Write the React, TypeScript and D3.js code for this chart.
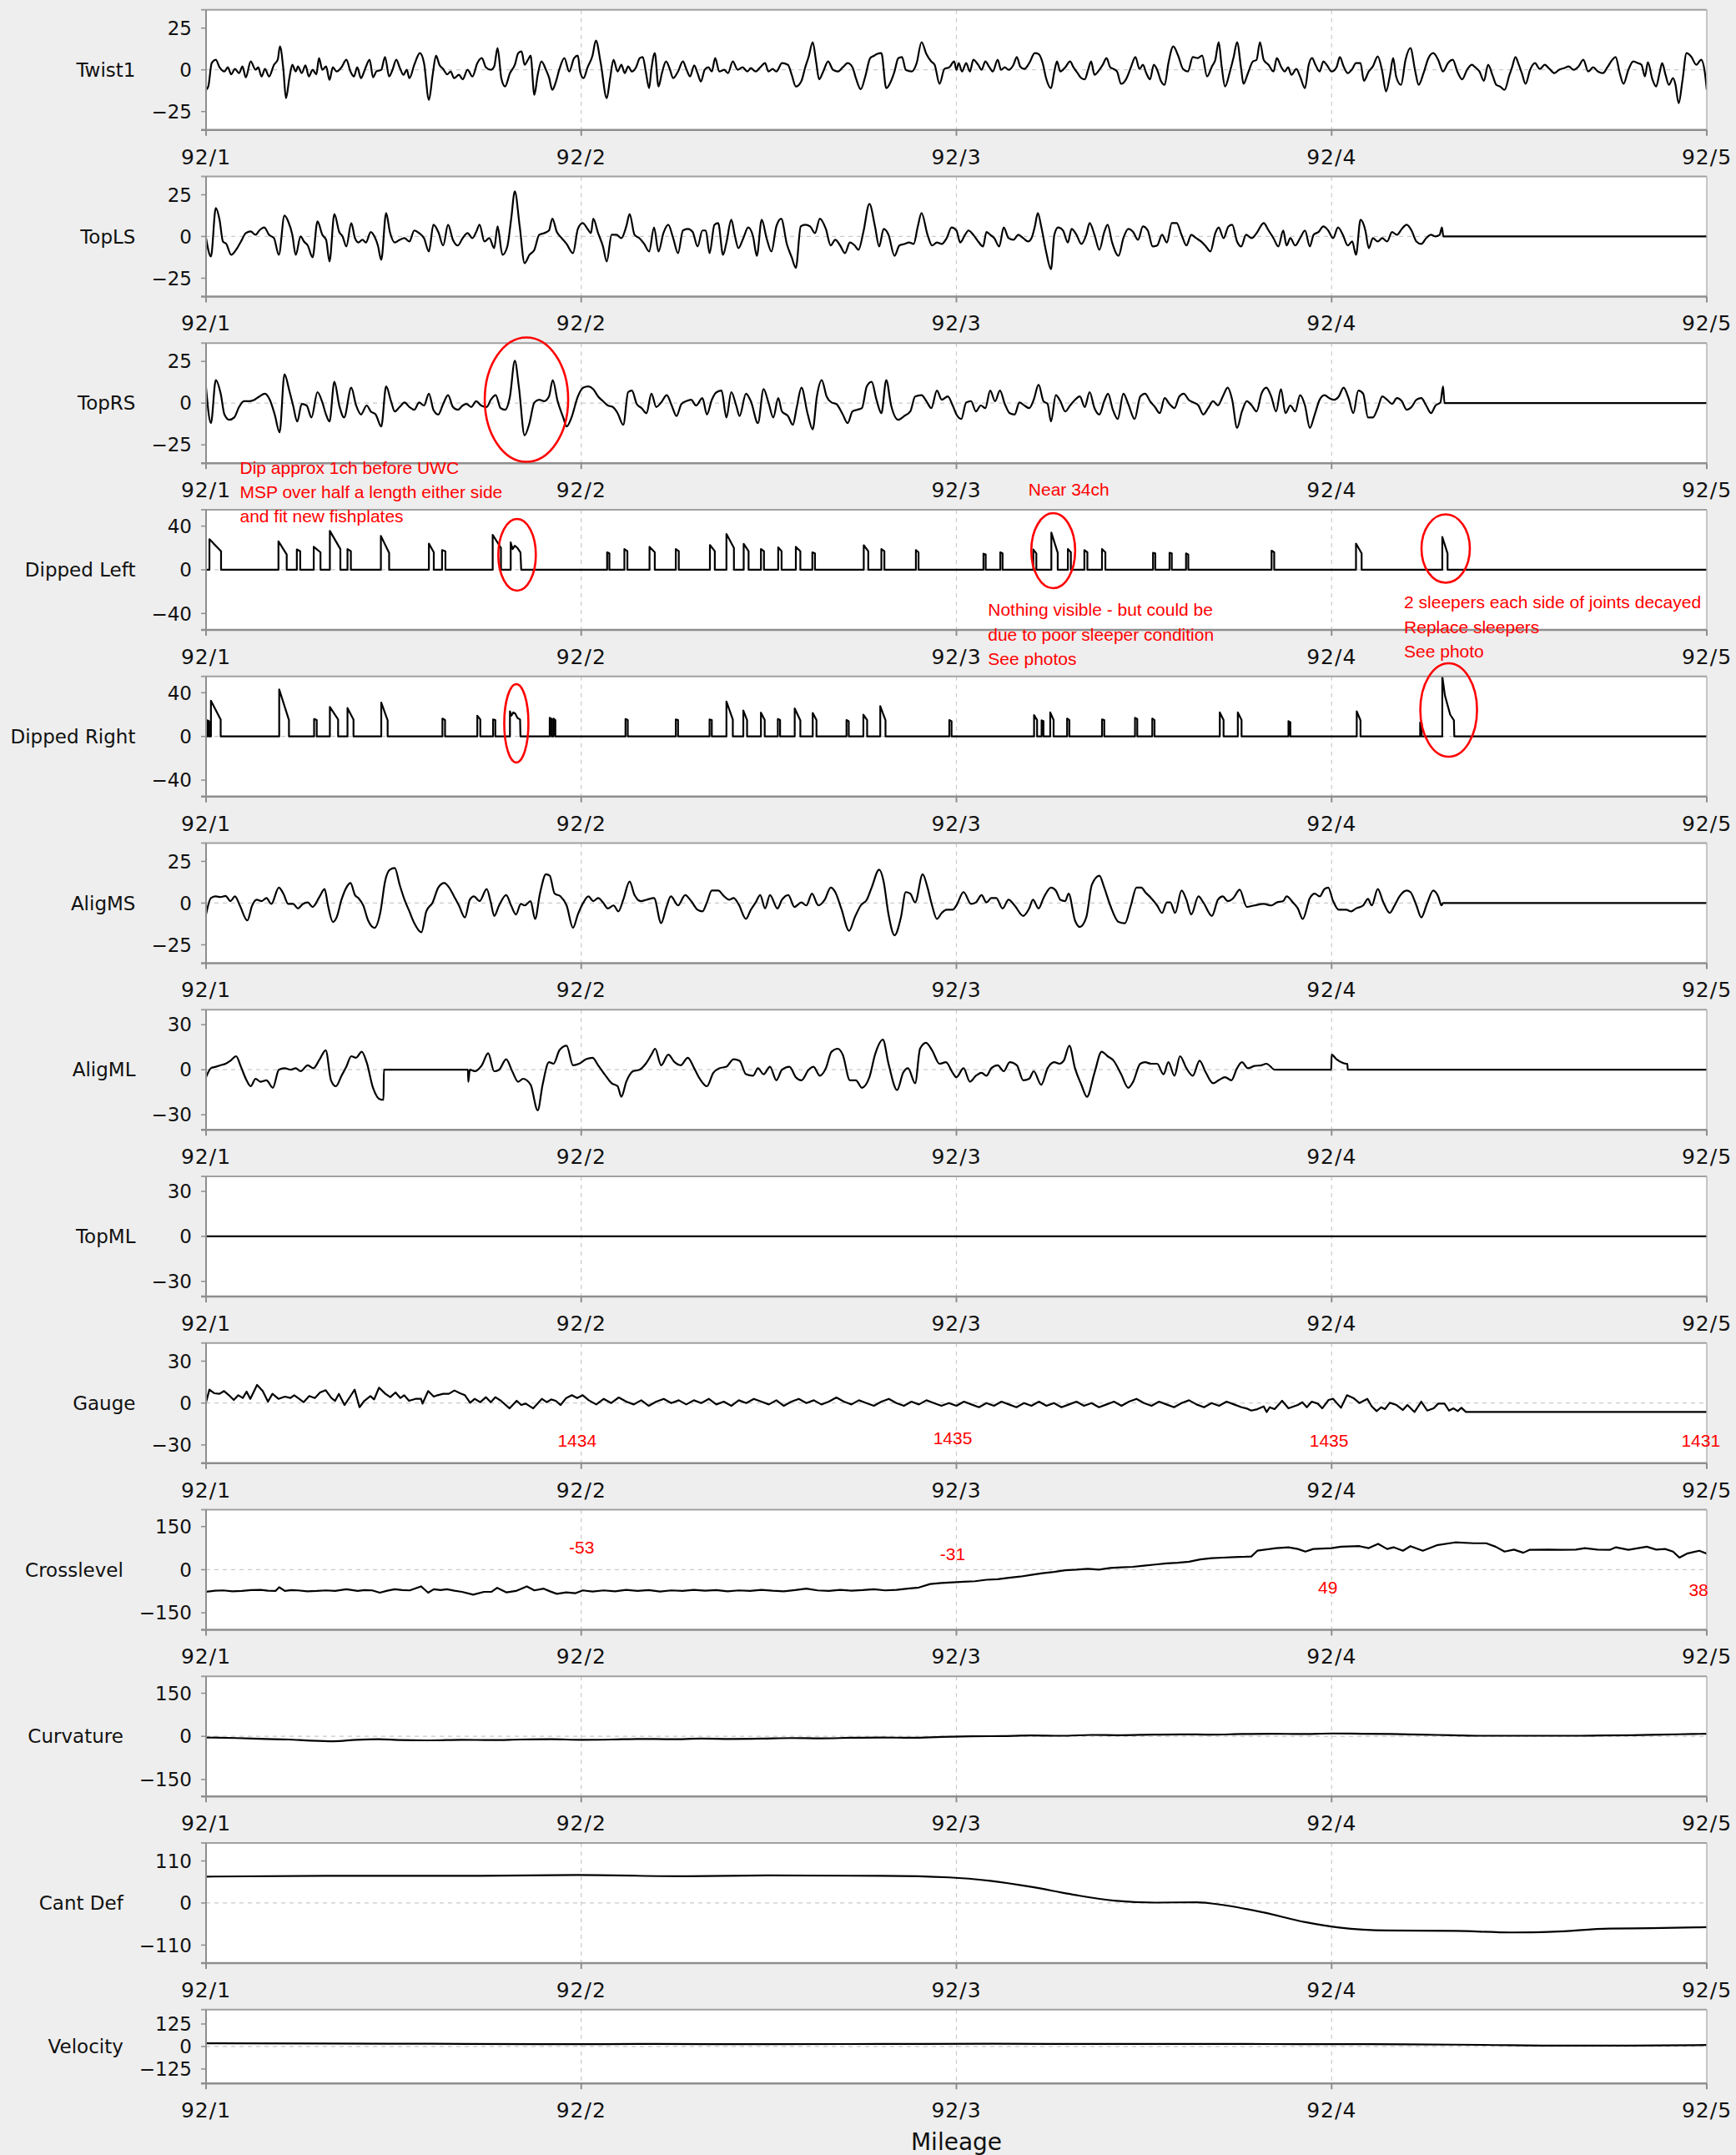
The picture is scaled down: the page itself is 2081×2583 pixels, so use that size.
import React from "react";
import * as d3 from "d3";

type P = [number, number];
type Spike = [number, number, number, number]; // mileage, peak, tail, width

// ---------- axis values ----------
const mileageTicks = [1, 2, 3, 4, 5];
const mileagePrefix = "92/";
const ticks25 = [25, 0, -25];
const ticks40 = [40, 0, -40];
const ticks30 = [30, 0, -30];
const ticks150 = [150, 0, -150];
const ticks110 = [110, 0, -110];
const ticks125 = [125, 0, -125];

// ---------- series (mileage in furlongs after 92 miles, value) ----------
const twist1: P[] = [
[1.000,-12],[1.006,-10],[1.015,4],[1.026,6],[1.036,1.5],[1.049,-1],[1.058,1.5],[1.067,-2.7],[1.077,0.5],[1.088,-2],[1.097,2],[1.106,-4.5],[1.119,5],[1.132,0],[1.139,1.5],[1.148,-4],[1.157,0.5],[1.168,-4],[1.181,3],[1.191,6],[1.197,14],[1.206,0.5],[1.213,-17],[1.222,-5],[1.230,3],[1.239,-1],[1.245,2],[1.255,-2],[1.265,2.7],[1.274,-4],[1.284,0],[1.294,-2.7],[1.301,7],[1.310,0],[1.320,2],[1.329,-6],[1.338,1.5],[1.348,-1],[1.361,1.5],[1.374,6],[1.385,-1],[1.394,-4],[1.403,1.5],[1.413,-5],[1.423,0],[1.436,6],[1.445,-4.5],[1.454,-1],[1.467,0],[1.477,7.7],[1.488,-4],[1.497,0],[1.507,6],[1.516,1.5],[1.526,-3],[1.535,0],[1.542,-5],[1.555,3],[1.570,10],[1.581,4],[1.594,-18],[1.604,-3],[1.613,8.5],[1.622,3],[1.632,0.5],[1.643,-2.7],[1.652,-1],[1.661,-5],[1.674,-3],[1.684,-5.7],[1.697,0],[1.710,-4],[1.723,4],[1.735,7],[1.746,1.5],[1.759,0],[1.768,2],[1.777,13],[1.787,-5],[1.797,-10],[1.810,-2],[1.823,3],[1.832,10],[1.841,11],[1.849,3],[1.858,6],[1.865,8.5],[1.875,-15],[1.884,-3],[1.894,5],[1.906,0],[1.914,-4.5],[1.923,-12],[1.932,-7.5],[1.942,0.5],[1.955,7],[1.968,-1],[1.981,7],[1.991,8.5],[1.997,-1],[2.006,-5],[2.017,1.5],[2.030,8.5],[2.039,17.5],[2.052,4],[2.068,-17],[2.077,-5],[2.086,6],[2.097,-1],[2.107,3],[2.116,-2],[2.125,2],[2.135,-1],[2.146,1.5],[2.156,7],[2.164,7.7],[2.172,-1],[2.181,-11],[2.187,0.5],[2.196,10],[2.206,-10],[2.215,-2],[2.226,5],[2.236,0.5],[2.245,-5],[2.258,-1],[2.271,5],[2.280,0.5],[2.290,-4],[2.301,2.7],[2.310,-2],[2.319,-7],[2.329,0],[2.339,1.5],[2.348,-1],[2.357,7],[2.368,-1],[2.381,0],[2.391,-2],[2.404,5],[2.417,0],[2.430,1.5],[2.443,-1],[2.452,1],[2.465,-1],[2.477,1.5],[2.490,4],[2.499,-1],[2.510,0.5],[2.520,-1],[2.535,4],[2.551,3],[2.561,-3],[2.572,-10],[2.587,-6.6],[2.597,1.5],[2.606,7.7],[2.617,16.6],[2.626,5],[2.634,-5.7],[2.645,-1],[2.658,5],[2.671,0],[2.684,-1],[2.697,1.5],[2.710,4],[2.723,1.5],[2.732,-5],[2.745,-11.6],[2.757,-4],[2.770,7],[2.781,8.5],[2.788,9.5],[2.800,10],[2.813,-11],[2.826,-6.6],[2.835,-1],[2.845,7],[2.855,7.7],[2.865,0],[2.881,-1],[2.894,4],[2.907,16.6],[2.920,9.5],[2.933,5],[2.942,3],[2.955,-8.4],[2.968,0.5],[2.981,1.5],[2.994,5],
[3.000,0],[3.006,4],[3.015,-1],[3.026,4],[3.036,-1],[3.045,6],[3.058,3],[3.067,0],[3.077,5],[3.088,1.5],[3.097,-1],[3.110,6],[3.119,0],[3.129,1.5],[3.139,0],[3.152,3],[3.161,7.7],[3.170,2],[3.181,0.5],[3.194,4],[3.209,10],[3.219,9.5],[3.230,4],[3.239,-5],[3.252,-11],[3.261,-1],[3.268,5],[3.277,-1],[3.290,1.5],[3.303,5],[3.312,1.5],[3.323,-2],[3.333,-5],[3.342,-5.7],[3.351,0],[3.359,5],[3.368,-3],[3.381,0],[3.390,3],[3.400,7],[3.410,1.5],[3.419,0.5],[3.428,-1],[3.439,-8.4],[3.452,-5.7],[3.465,1.5],[3.477,7.7],[3.488,0.5],[3.497,3],[3.506,-2],[3.516,-5.7],[3.526,3],[3.535,0],[3.545,-6.6],[3.555,-9],[3.565,4],[3.578,14],[3.591,8.5],[3.604,0.5],[3.617,-1],[3.630,7.7],[3.643,7],[3.655,8.5],[3.668,-4],[3.681,2],[3.690,6],[3.699,16.6],[3.707,2],[3.716,-10],[3.729,-1],[3.739,7.7],[3.748,16.6],[3.759,0.5],[3.765,-8.4],[3.777,-2],[3.790,5],[3.800,6],[3.809,16.6],[3.819,6],[3.832,3],[3.845,-1],[3.854,7],[3.865,2],[3.875,-1],[3.884,1.5],[3.893,-3],[3.906,0.5],[3.916,-4],[3.929,-11],[3.939,3],[3.948,7],[3.957,3],[3.968,-1],[3.978,5],[3.987,3],[4.000,-1],[4.013,1.5],[4.022,7.7],[4.032,2],[4.043,-2],[4.055,0.5],[4.065,4],[4.077,4],[4.086,-6.6],[4.099,-1],[4.110,2],[4.123,8],[4.135,-1],[4.145,-13],[4.155,-4],[4.164,7],[4.172,-4],[4.185,-9],[4.197,6],[4.210,13],[4.223,-1],[4.232,-9],[4.245,-2],[4.258,7],[4.271,10],[4.284,6],[4.297,-1],[4.310,4],[4.323,6],[4.335,-1],[4.348,-5.7],[4.361,0],[4.374,3],[4.383,1.5],[4.394,-1],[4.406,-6.6],[4.417,3],[4.430,-4],[4.439,-9],[4.449,-10],[4.461,-12],[4.474,-3],[4.481,1.5],[4.490,7.7],[4.499,3],[4.507,-2],[4.517,-8.4],[4.529,0],[4.542,4],[4.555,0.5],[4.568,3],[4.581,0.5],[4.594,-2],[4.606,0],[4.619,1],[4.632,2],[4.645,0],[4.658,2],[4.671,6],[4.684,-1],[4.697,1.5],[4.710,-1],[4.723,-2],[4.735,1.5],[4.748,6],[4.757,7.7],[4.768,-2],[4.778,-8.4],[4.791,0],[4.804,5],[4.817,4],[4.826,3],[4.835,-4],[4.843,4.5],[4.855,-5.7],[4.865,-10],[4.874,-2],[4.881,4],[4.890,-3],[4.899,-9],[4.910,-5],[4.916,-8.4],[4.925,-20],[4.935,-6.6],[4.946,10],[4.959,7.7],[4.972,3],[4.985,6],[4.995,-2],[5.000,-12]
];

const topLS: P[] = [
[1.000,-1],[1.013,-12],[1.026,17],[1.036,10],[1.045,-3],[1.054,-4.5],[1.067,-11],[1.080,-8],[1.093,-3],[1.106,2],[1.119,3],[1.132,1],[1.142,3.6],[1.155,5.4],[1.168,1],[1.181,-1],[1.194,-11],[1.209,12.5],[1.219,9],[1.230,1],[1.239,-11],[1.252,0],[1.261,-3],[1.271,-5.4],[1.284,-12.5],[1.297,9],[1.310,1],[1.320,-2],[1.329,-15],[1.342,13.4],[1.355,2.7],[1.364,0],[1.374,-6],[1.387,8],[1.397,-1],[1.406,-3.6],[1.417,-2],[1.426,-3.6],[1.439,2.7],[1.449,0],[1.458,-5.4],[1.467,-14],[1.480,14],[1.490,2.7],[1.503,-3.6],[1.516,-2],[1.529,-1],[1.542,-3],[1.555,3.6],[1.568,2],[1.581,-1],[1.594,-9],[1.606,7],[1.619,2.7],[1.632,-5.4],[1.645,7],[1.658,-2],[1.671,-5.4],[1.684,-1],[1.697,2],[1.710,-1],[1.720,2.7],[1.729,7],[1.742,-3],[1.755,-1],[1.768,-7],[1.777,6],[1.790,-11],[1.803,-6],[1.813,10],[1.823,27],[1.836,6],[1.849,-16],[1.862,-11],[1.875,-8],[1.888,1],[1.901,2],[1.914,3.6],[1.923,10.7],[1.935,2.7],[1.948,-1],[1.961,-4.5],[1.978,-10],[1.991,4.5],[2.004,8],[2.017,4.5],[2.026,2],[2.032,10.7],[2.045,2],[2.058,-6],[2.068,-15],[2.081,1],[2.094,1],[2.107,-1],[2.120,6],[2.129,13.4],[2.142,1],[2.155,-1],[2.168,-4.5],[2.181,-9],[2.194,5.4],[2.206,-9],[2.219,2],[2.232,7],[2.245,-1],[2.258,-10],[2.271,3.6],[2.284,4.5],[2.297,2.7],[2.310,-6],[2.323,3.6],[2.332,3.6],[2.342,-10],[2.355,7],[2.365,8],[2.378,-11],[2.387,-3.6],[2.400,10],[2.409,1],[2.419,-7],[2.432,-1],[2.445,5.4],[2.458,0],[2.468,-11.6],[2.481,10],[2.494,-1],[2.507,-9],[2.520,6],[2.533,10.7],[2.548,-4.5],[2.561,-12.5],[2.572,-18.8],[2.585,6],[2.597,7],[2.610,6],[2.623,2],[2.636,10.7],[2.652,4.5],[2.665,-5.4],[2.677,-2],[2.690,-5.4],[2.703,-10],[2.716,-3.6],[2.729,-5.4],[2.739,-8],[2.752,2.7],[2.768,19.6],[2.783,6],[2.794,-6],[2.806,4.5],[2.819,1],[2.835,-11.6],[2.848,-5.4],[2.861,-4.5],[2.874,-3.6],[2.886,-4.5],[2.897,6],[2.907,14],[2.923,1],[2.935,-5.4],[2.948,-3.6],[2.961,-4.5],[2.974,-1],[2.987,5.4],
[3.000,3.6],[3.010,-3.6],[3.023,1],[3.032,3.6],[3.045,1],[3.058,-3],[3.071,-6],[3.080,2.7],[3.090,1],[3.101,-1],[3.114,-6],[3.126,5.4],[3.139,-1],[3.152,-2],[3.165,1],[3.178,-1],[3.191,-3],[3.200,-1],[3.209,6],[3.217,14],[3.226,6],[3.239,-9],[3.252,-19.6],[3.261,1],[3.271,5.4],[3.284,3.6],[3.297,-3.6],[3.307,4.5],[3.320,1],[3.333,-4.5],[3.346,1],[3.355,8],[3.368,1],[3.381,-8],[3.394,2.7],[3.403,7],[3.415,-3.6],[3.432,-11.6],[3.445,-1],[3.458,4.5],[3.471,2.7],[3.484,-2],[3.497,6],[3.510,3.6],[3.523,-6],[3.535,-5.4],[3.548,1],[3.561,-3.6],[3.574,8],[3.587,8],[3.600,1],[3.613,-5.4],[3.626,1],[3.639,-1],[3.652,-3],[3.665,-6],[3.677,-9],[3.690,2],[3.699,5.4],[3.712,-1],[3.725,6],[3.735,7],[3.748,-3],[3.759,-6],[3.772,1],[3.787,-1],[3.800,2],[3.819,8],[3.832,3.6],[3.845,-1],[3.858,-6],[3.871,3.6],[3.880,-5.4],[3.890,-1],[3.903,-5.4],[3.916,-1],[3.929,3.6],[3.942,-6],[3.952,1],[3.965,2.7],[3.978,6],[3.991,3.6],[4.004,-1],[4.017,5.4],[4.030,1],[4.043,-5.4],[4.055,-3],[4.065,-11],[4.077,10],[4.090,3.6],[4.099,-7],[4.110,-1],[4.123,-3],[4.135,-1],[4.148,-3],[4.161,2.7],[4.174,1],[4.187,4.5],[4.200,7],[4.213,3.6],[4.226,-3],[4.239,-4.5],[4.252,-1],[4.265,1],[4.277,0],[4.288,1],[4.294,5.4],[4.298,0],[5.000,0]
];

const topRS: P[] = [
[1.000,9.3],[1.013,-12],[1.026,13.8],[1.039,5.7],[1.049,-6.8],[1.062,-10],[1.075,-8.6],[1.088,-2.3],[1.101,1.2],[1.116,1.2],[1.129,2],[1.142,4],[1.157,5.7],[1.170,2],[1.183,-6.8],[1.196,-17.5],[1.209,17.3],[1.222,7.5],[1.232,-1.4],[1.243,-11],[1.255,-0.5],[1.268,-1.4],[1.281,-8.6],[1.297,6.6],[1.310,0.4],[1.320,-7],[1.329,-11],[1.342,12.8],[1.355,-1.4],[1.368,-8.6],[1.387,9.3],[1.400,-1.4],[1.413,-6.8],[1.428,-1.4],[1.439,-5],[1.452,-6.8],[1.467,-14],[1.480,10],[1.493,1.2],[1.503,-5],[1.516,-2.3],[1.529,0.4],[1.542,-2.3],[1.555,-4],[1.568,0.4],[1.581,-1.4],[1.594,5.7],[1.606,-4],[1.619,-6.8],[1.632,-0.5],[1.645,4.8],[1.658,-2.3],[1.671,-4],[1.684,-1.4],[1.694,-0.5],[1.707,-2.3],[1.720,1.2],[1.733,-1.4],[1.748,-2.3],[1.759,2],[1.772,4.8],[1.785,-3],[1.797,-4],[1.810,4],[1.823,25.4],[1.834,9.3],[1.849,-19.3],[1.862,-12],[1.875,0.4],[1.888,2],[1.901,1.2],[1.914,4],[1.924,13.8],[1.937,1.2],[1.952,-8.6],[1.961,-14],[1.974,-8.6],[1.991,4],[2.006,9.3],[2.019,10],[2.032,8.4],[2.045,4],[2.058,1.2],[2.071,-1.4],[2.084,-2.3],[2.097,-6],[2.112,-13],[2.125,6.6],[2.135,7.5],[2.148,-0.5],[2.161,-3],[2.174,-6],[2.187,5.7],[2.200,-2.3],[2.213,0.4],[2.228,4.8],[2.241,-1.4],[2.254,-7.7],[2.267,-0.5],[2.280,1.2],[2.293,2],[2.306,-1.4],[2.323,3],[2.335,-6.8],[2.348,2],[2.361,6.6],[2.374,7.5],[2.387,-8.6],[2.400,6.6],[2.413,-1.4],[2.422,-7.7],[2.439,5.7],[2.452,1.2],[2.471,-12],[2.486,8.4],[2.499,0.4],[2.512,-8.6],[2.525,3],[2.535,-5],[2.551,-7.7],[2.564,-13],[2.574,-3],[2.587,9.3],[2.603,-6],[2.617,-15.7],[2.628,4],[2.641,13.8],[2.654,4],[2.667,0.4],[2.680,-0.5],[2.697,-6.8],[2.710,-12],[2.723,-5],[2.735,-4],[2.748,-3],[2.761,10],[2.774,12.8],[2.787,2],[2.800,-6],[2.813,13.8],[2.826,-1.4],[2.845,-10],[2.861,-7.7],[2.877,-5],[2.890,4],[2.907,4.8],[2.920,1.2],[2.933,-3],[2.948,7.5],[2.961,2],[2.977,4],[2.990,-1.4],
[3.000,-6.8],[3.013,-9.5],[3.026,0.4],[3.039,1.2],[3.052,-5],[3.065,-1.4],[3.077,-3],[3.090,7.5],[3.103,1.2],[3.116,7.5],[3.129,-0.5],[3.142,-6],[3.155,-6.8],[3.168,0.4],[3.181,-1.4],[3.194,-3],[3.206,2],[3.219,11],[3.232,1.2],[3.243,-0.5],[3.252,-11],[3.265,4.8],[3.277,1.2],[3.290,-5],[3.303,-1.4],[3.316,2],[3.329,4],[3.342,-2.3],[3.355,6.6],[3.368,-3],[3.381,-6.8],[3.394,1.2],[3.404,5.7],[3.417,-4],[3.430,-9.5],[3.445,5.7],[3.458,-0.5],[3.475,-9.5],[3.490,4],[3.503,5.7],[3.516,1.2],[3.529,-2.3],[3.542,-6],[3.555,3],[3.568,-0.5],[3.581,-3],[3.594,4],[3.606,5.7],[3.619,2],[3.632,0.4],[3.645,-1.4],[3.658,-6.8],[3.671,-3],[3.684,1.2],[3.697,-1.4],[3.710,4],[3.723,9.3],[3.735,2],[3.748,-14.8],[3.761,-5],[3.774,1.2],[3.787,-1.4],[3.800,-5],[3.813,5.7],[3.826,9.3],[3.839,4],[3.852,-5],[3.865,8.4],[3.877,-6],[3.890,-1.4],[3.903,-5],[3.916,4.8],[3.929,-1.4],[3.942,-14.8],[3.955,-6.8],[3.968,2],[3.981,4.8],[3.994,3],[4.006,2],[4.019,4],[4.032,9.3],[4.045,3],[4.058,-6],[4.071,7.5],[4.084,5.7],[4.097,-8.6],[4.110,-8.6],[4.123,-3],[4.135,4],[4.148,2],[4.161,-0.5],[4.174,3],[4.187,1.2],[4.200,-4],[4.213,-2.3],[4.226,2],[4.239,3],[4.252,-1.4],[4.265,-6],[4.277,-1.4],[4.290,0.4],[4.297,10],[4.301,0],[5.000,0]
];

const dippedLeftSpikes: Spike[] = [
[1.009,28,17,0.031],[1.193,26,14,0.022],[1.242,18.6,17,0.009],[1.287,21,16,0.018],[1.330,35.6,19,0.028],[1.377,19,17,0.009],[1.466,31,15.5,0.022],[1.594,24,16,0.013],[1.629,18,17,0.009],[1.764,32,20,0.022],
[2.069,16,15,0.006],[2.115,19,17,0.008],[2.182,21,16,0.014],[2.252,19,17,0.008],[2.343,22.7,17,0.013],[2.387,32.8,20,0.02],[2.433,23.7,17,0.013],[2.479,19,17,0.008],[2.525,20.6,17,0.009],[2.572,21,17,0.012],[2.616,16,15,0.007],[2.753,22.5,17,0.012],[2.800,19,17,0.008],[2.892,18,16,0.007],
[3.072,14.7,14,0.006],[3.117,16,15,0.006],[3.205,18.6,15,0.008],[3.253,34,15.5,0.017],[3.297,19,16,0.008],[3.341,18,16,0.008],[3.388,19,16,0.009],[3.524,15.5,15,0.006],[3.568,15.5,15,0.006],[3.612,15,14,0.006],[3.840,17.5,16,0.007],[4.065,24,15,0.015],[4.295,30,15,0.014]
];
const dippedLeftGroups: P[][] = [
[[1.812,0],[1.812,25],[1.817,19],[1.823,22],[1.830,20],[1.838,16],[1.840,0]]
];

const dippedRightSpikes: Spike[] = [
[1.004,14.7,14,0.004],[1.013,32.7,15.5,0.026],[1.195,43,15,0.026],[1.288,16,15,0.007],[1.330,27,15.5,0.022],[1.377,26,15.5,0.016],[1.467,31,14.7,0.017],[1.630,16.4,15,0.007],[1.723,19,15.5,0.008],[1.765,15.5,15,0.006],[1.916,17,16,0.005],[1.926,16.4,15,0.005],
[2.118,16,15,0.006],[2.252,15.5,15,0.006],[2.342,15.5,15,0.006],[2.387,32,15.5,0.017],[2.432,23.7,15,0.01],[2.479,21.8,15,0.01],[2.524,16,15,0.006],[2.569,25.6,14.7,0.015],[2.617,21.5,15,0.01],[2.707,15,14,0.006],[2.752,20,15,0.01],[2.797,27.8,14.7,0.014],[2.981,15,14,0.006],
[3.207,19.6,15,0.008],[3.227,14.7,14,0.005],[3.250,22,15,0.009],[3.295,16.4,15,0.006],[3.388,15.5,15,0.006],[3.476,17,16,0.006],[3.522,16.4,15,0.006],[3.702,22,15,0.01],[3.750,22,15,0.01],[3.885,14,13,0.005],[4.067,23,14.7,0.01],[4.236,12.8,12,0.004]
];
const dippedRightGroups: P[][] = [
[[1.810,0],[1.810,23],[1.814,19],[1.819,22],[1.824,21],[1.830,17],[1.837,15.5],[1.838,0]],
[[4.295,0],[4.295,55],[4.302,37.5],[4.316,20],[4.326,14.7],[4.327,0]]
];

const aligMS: P[] = [
[1.000,-6.8],[1.013,3],[1.026,4],[1.039,3.6],[1.052,4.3],[1.065,1.2],[1.077,4],[1.090,-1.4],[1.110,-10.4],[1.123,-1.4],[1.135,2],[1.148,1.2],[1.161,3],[1.174,-0.5],[1.194,9.3],[1.206,5.7],[1.219,-0.5],[1.232,-0.5],[1.245,-3.2],[1.258,-0.5],[1.271,0.4],[1.284,-2.3],[1.303,4],[1.316,8.4],[1.325,-1.4],[1.338,-11.3],[1.348,-8.6],[1.361,2],[1.374,9.3],[1.385,12],[1.397,4.8],[1.406,3],[1.419,-1.4],[1.432,-10.4],[1.449,-14.8],[1.465,-5],[1.477,12.9],[1.490,20],[1.503,21],[1.516,11],[1.529,2],[1.542,-5],[1.555,-12],[1.574,-17.5],[1.587,-5],[1.604,0.4],[1.619,9.3],[1.635,12],[1.648,9.3],[1.661,4],[1.674,-1.4],[1.690,-8.6],[1.703,2],[1.714,4],[1.729,1.2],[1.748,8.4],[1.759,0.4],[1.768,-7.7],[1.781,-1.4],[1.800,4.8],[1.813,-1.4],[1.826,-6.8],[1.839,-0.5],[1.849,-1.4],[1.865,1.2],[1.877,-9.5],[1.890,5.7],[1.906,17.3],[1.916,16.4],[1.929,5.7],[1.945,4],[1.961,-1.4],[1.978,-14.8],[1.991,-6.8],[2.006,0.4],[2.019,4],[2.032,1.2],[2.045,3],[2.058,0.4],[2.071,-3.2],[2.086,-1.4],[2.099,-5],[2.112,2],[2.129,12.9],[2.142,4.8],[2.159,1.2],[2.174,2],[2.194,3],[2.213,-12],[2.226,-3.2],[2.239,4],[2.258,-1.4],[2.277,4.8],[2.293,1.2],[2.310,-4],[2.323,-5],[2.335,0.4],[2.348,7.5],[2.365,7.5],[2.381,4],[2.394,2],[2.406,3],[2.419,-0.5],[2.439,-9.5],[2.452,-4],[2.465,0.4],[2.477,4.8],[2.490,-3.2],[2.503,4.8],[2.523,-3.2],[2.535,2],[2.552,4.8],[2.568,-2.3],[2.587,0.4],[2.600,-1.4],[2.615,5.7],[2.632,-1.4],[2.649,2],[2.665,9.3],[2.677,6.6],[2.693,-3.2],[2.714,-16.6],[2.729,-8.6],[2.745,-1.4],[2.761,2],[2.774,9.3],[2.794,20],[2.806,12.9],[2.819,-6.8],[2.835,-19.3],[2.852,-8.6],[2.865,6.6],[2.877,5.7],[2.890,0.4],[2.910,17.3],[2.923,9.3],[2.935,-1.4],[2.948,-9.5],[2.961,-5.9],[2.974,-4],[2.990,-4],
[3.000,-1.4],[3.019,6.6],[3.039,-0.5],[3.052,0.4],[3.067,4.8],[3.080,0.4],[3.093,3],[3.106,3],[3.123,-3.2],[3.139,2],[3.155,-1.4],[3.178,-7.7],[3.194,-3.2],[3.204,2],[3.219,-3.2],[3.232,3],[3.252,9.3],[3.265,7.5],[3.277,2],[3.290,1.2],[3.299,5.7],[3.316,-10.4],[3.329,-14.3],[3.346,-8.6],[3.361,11],[3.381,16.4],[3.394,9.3],[3.410,-1.4],[3.432,-11.3],[3.449,-12.1],[3.465,-1.4],[3.480,9.3],[3.493,9.3],[3.503,6.6],[3.519,3],[3.535,-1.4],[3.548,-5.9],[3.561,0.4],[3.570,0.4],[3.583,-5.9],[3.600,7.5],[3.613,2],[3.626,-6.8],[3.645,4],[3.658,0.4],[3.681,-7.7],[3.697,2],[3.710,4],[3.723,1.2],[3.738,3],[3.755,8],[3.774,-2.3],[3.794,-1.4],[3.819,-0.5],[3.839,-1.4],[3.854,0.4],[3.871,1.2],[3.880,4],[3.897,0.4],[3.910,-3.2],[3.923,-9.5],[3.942,3],[3.955,5.7],[3.968,4],[3.981,8.4],[3.991,9.3],[4.004,1.2],[4.019,-4],[4.039,-4],[4.052,-5],[4.065,-3.2],[4.084,-1.4],[4.097,2.5],[4.107,-1.4],[4.123,8.4],[4.138,0.4],[4.155,-5.9],[4.168,-1.4],[4.181,4],[4.200,7.5],[4.210,6.6],[4.226,-1.4],[4.239,-8.6],[4.254,-0.5],[4.271,7.5],[4.284,4],[4.293,-1.4],[4.297,0],[5.000,0]
];

const aligML: P[] = [
[1.000,-5],[1.013,1],[1.026,2],[1.039,3],[1.052,4],[1.065,6],[1.080,9],[1.093,2],[1.106,-6],[1.119,-11],[1.132,-6],[1.145,-8],[1.161,-7],[1.178,-12],[1.194,0],[1.209,1],[1.226,0],[1.239,1],[1.252,-1],[1.271,3],[1.286,1],[1.303,7],[1.319,13],[1.333,-7],[1.346,-11],[1.361,-4],[1.374,2],[1.387,9],[1.400,8],[1.415,12],[1.428,5],[1.445,-12],[1.467,-20],[1.473,-20],[1.474,0],[1.698,0],[1.699,-8],[1.703,0],[1.716,-1],[1.735,3],[1.752,11],[1.768,-1],[1.781,0],[1.800,7],[1.816,-1],[1.832,-8],[1.845,-6],[1.865,-10],[1.884,-27],[1.897,-10],[1.914,5],[1.926,4],[1.942,13],[1.961,16],[1.978,3],[1.994,4],[2.013,7],[2.030,8],[2.045,3],[2.065,-4],[2.081,-9],[2.097,-11],[2.107,-18],[2.120,-8],[2.138,-1],[2.155,0],[2.172,4],[2.187,10],[2.197,14],[2.213,3],[2.232,10],[2.249,5],[2.265,3],[2.284,8],[2.301,1],[2.316,-6],[2.335,-11],[2.352,-2],[2.368,1],[2.387,2],[2.406,7],[2.422,6],[2.439,-3],[2.458,-4],[2.471,1],[2.486,-3],[2.503,2],[2.520,-7],[2.535,0],[2.555,2],[2.572,-5],[2.587,-7],[2.606,0],[2.619,2],[2.636,-4],[2.652,1],[2.667,12],[2.684,14],[2.697,10],[2.716,-7],[2.732,-7],[2.748,-12],[2.768,-5],[2.783,10],[2.804,20],[2.819,4],[2.842,-13.5],[2.858,-2],[2.871,1],[2.890,-9],[2.903,14],[2.919,18],[2.935,13],[2.955,4],[2.972,5],[2.990,-2],
[3.000,-5],[3.019,1],[3.036,-8],[3.052,-4],[3.067,-2],[3.080,-4],[3.093,1],[3.110,3],[3.126,-1],[3.142,5],[3.161,3],[3.178,-7],[3.194,-6],[3.206,-1],[3.226,-10],[3.243,1],[3.261,5],[3.274,4],[3.286,6],[3.301,16],[3.316,1],[3.333,-10],[3.348,-18],[3.368,-2],[3.387,12],[3.403,9],[3.419,6],[3.439,-3],[3.458,-12],[3.471,-8],[3.490,4],[3.503,5],[3.519,4],[3.535,4],[3.552,-3],[3.565,5],[3.581,-4],[3.596,9],[3.613,1],[3.630,-4],[3.648,6],[3.665,-2],[3.684,-9],[3.699,-7],[3.716,-5],[3.733,-7],[3.748,1],[3.761,5],[3.777,1],[3.794,2.5],[3.813,3],[3.826,4],[3.849,0],[3.999,0],[4.000,10],[4.013,7],[4.026,5],[4.039,4],[4.042,4],[4.043,0],[5.000,0]
];

const topML: P[] = [[1, 0], [5, 0]];

const gauge: P[] = [
[1.000,0.6],[1.009,9.6],[1.022,7],[1.036,6.6],[1.048,8.6],[1.061,5.6],[1.074,2.2],[1.086,5.6],[1.098,3.6],[1.108,8.2],[1.118,3],[1.136,13],[1.151,8.6],[1.165,1],[1.177,6.6],[1.193,3],[1.210,4.6],[1.225,3.6],[1.235,5.6],[1.245,3.6],[1.260,0.6],[1.275,5],[1.290,3.6],[1.304,7.6],[1.319,9.2],[1.334,3.6],[1.344,1.6],[1.354,6.6],[1.369,-1.4],[1.384,4.6],[1.396,9.6],[1.409,-3],[1.422,1.6],[1.438,5],[1.448,2.6],[1.461,11],[1.478,6.6],[1.491,4.2],[1.505,7.6],[1.518,3.6],[1.528,5.6],[1.541,1.6],[1.558,3],[1.573,3],[1.577,-0.4],[1.592,8.6],[1.607,4.6],[1.617,5.6],[1.632,6.6],[1.647,6.6],[1.662,9],[1.677,7],[1.690,5.6],[1.704,0.2],[1.716,3],[1.731,0.6],[1.746,4.2],[1.759,0.6],[1.771,4.2],[1.786,1.6],[1.809,-3.8],[1.828,1.6],[1.840,-1.4],[1.852,-0.4],[1.872,-3.8],[1.895,3],[1.908,0.6],[1.920,2.6],[1.932,1.6],[1.945,-1.4],[1.960,3.6],[1.975,5.6],[1.989,3.6],[2.004,5.6],
[2.02,2],[2.04,-1],[2.06,3],[2.08,0],[2.10,4],[2.12,1],[2.14,-1],[2.16,2],[2.18,-2],[2.20,1],[2.22,3],[2.24,0],[2.26,2],[2.28,-1],[2.30,2],[2.32,0],[2.34,3],[2.36,-1],[2.38,1],[2.40,-2],[2.42,2],[2.44,0],[2.46,3],[2.48,1],[2.50,-1],[2.52,2],[2.54,-2],[2.56,1],[2.58,3],[2.60,0],[2.62,2],[2.64,-1],[2.66,1],[2.68,4],[2.70,1],[2.72,-1],[2.74,2],[2.76,0],[2.78,-2],[2.80,1],[2.82,3],[2.84,0],[2.86,-2],[2.88,1],[2.90,-1],[2.92,2],[2.94,0],[2.96,-2],[2.98,0],[3.00,-2],[3.02,1],[3.04,-1],[3.06,-3],[3.08,0],[3.10,-2],[3.12,1],[3.14,-1],[3.16,-3],[3.18,0],[3.20,-2],[3.22,1],[3.24,-2],[3.26,0],[3.28,-3],[3.30,-1],[3.32,1],[3.34,-2],[3.36,0],[3.38,-3],[3.40,-1],[3.42,1],[3.44,-2],[3.46,1],[3.48,3],[3.50,0],[3.52,-2],[3.54,1],[3.56,-1],[3.58,-3],[3.60,0],[3.62,2],[3.64,-1],[3.66,-3],[3.68,0],[3.70,-2],[3.72,1],[3.74,-1],[3.76,-3],[3.775,-4],
[3.786,-5.4],[3.802,-4.4],[3.819,-2.4],[3.827,-6.4],[3.835,-3],[3.848,-4.4],[3.868,1.6],[3.885,-3.8],[3.910,-1.4],[3.922,0.6],[3.934,-3],[3.947,1],[3.963,-0.4],[3.975,-3.8],[3.992,2.2],[4.004,3],[4.025,-3.4],[4.041,5.6],[4.058,3.6],[4.074,0],[4.095,3],[4.107,-2.4],[4.120,-5.8],[4.132,-3],[4.142,-4.4],[4.155,0.2],[4.173,-1.4],[4.190,-5],[4.202,-1.4],[4.221,-6.4],[4.239,1],[4.255,-5.4],[4.272,-3.8],[4.284,-0.4],[4.301,-0.4],[4.313,-5.4],[4.325,-3.8],[4.336,-5.8],[4.346,-3.4],[4.358,-6.4],[5.000,-6.4]
];

const crosslevel: P[] = [
[1.000,-77],[1.023,-73],[1.046,-72],[1.070,-75],[1.096,-74],[1.120,-71],[1.146,-70],[1.165,-73],[1.185,-74],[1.195,-61],[1.210,-74],[1.228,-71],[1.245,-72],[1.270,-75],[1.295,-74],[1.320,-72],[1.344,-74],[1.374,-68],[1.404,-74],[1.423,-71],[1.443,-72],[1.463,-80],[1.483,-73],[1.503,-68],[1.523,-71],[1.543,-72],[1.573,-58],[1.592,-80],[1.607,-68],[1.625,-71],[1.642,-68],[1.662,-73],[1.682,-77],[1.712,-87],[1.741,-77],[1.761,-77],[1.776,-63],[1.801,-79],[1.826,-74],[1.855,-58],[1.875,-72],[1.900,-66],[1.918,-76],[1.935,-84],[1.960,-79],[1.984,-82],[2.004,-72],
[2.03,-76],[2.06,-72],[2.09,-75],[2.12,-70],[2.15,-74],[2.18,-71],[2.21,-76],[2.24,-72],[2.27,-74],[2.30,-70],[2.33,-73],[2.36,-71],[2.39,-75],[2.42,-72],[2.45,-74],[2.48,-70],[2.51,-73],[2.54,-75],[2.57,-71],[2.60,-66],[2.63,-72],[2.66,-74],[2.69,-70],[2.72,-73],[2.75,-71],[2.78,-68],[2.81,-72],[2.84,-70],[2.87,-66],[2.90,-62],[2.93,-50],[2.96,-46],[2.99,-44],[3.02,-42],[3.05,-40],[3.08,-35],[3.11,-33],[3.14,-28],[3.17,-24],[3.20,-18],[3.23,-12],[3.26,-8],[3.29,-2],[3.32,0],[3.35,3],[3.38,0],[3.41,6],[3.44,8],[3.47,10],[3.50,14],[3.53,18],[3.56,22],[3.59,24],[3.62,28],[3.65,36],[3.68,40],[3.71,42],[3.74,44],[3.77,45],
[3.786,46],[3.802,66],[3.852,75],[3.885,78],[3.910,72],[3.930,63],[3.951,72],[4.000,75],[4.025,80],[4.074,82],[4.099,75],[4.124,90],[4.148,72],[4.165,78],[4.190,66],[4.210,82],[4.243,66],[4.280,85],[4.329,95],[4.379,92],[4.412,92],[4.437,80],[4.461,63],[4.486,70],[4.511,59],[4.527,69],[4.577,70],[4.610,69],[4.651,70],[4.675,75],[4.708,70],[4.741,69],[4.758,78],[4.791,69],[4.840,80],[4.865,70],[4.889,72],[4.910,63],[4.927,42],[4.947,56],[4.980,66],[5.000,56]
];

const curvature: P[] = [
[1.00,-4],[1.08,-6],[1.16,-9],[1.22,-11],[1.28,-15],[1.34,-17],[1.40,-12],[1.46,-10],[1.52,-13],[1.60,-14],[1.68,-12],[1.76,-13],[1.84,-11],[1.92,-10],[2.00,-12],[2.08,-11],[2.16,-9],[2.24,-10],[2.32,-8],[2.40,-9],[2.48,-8],[2.56,-6],[2.64,-7],[2.72,-5],[2.80,-4],[2.88,-5],[2.96,-2],[3.04,0],[3.12,1],[3.20,3],[3.28,2],[3.36,5],[3.44,4],[3.52,6],[3.60,7],[3.68,6],[3.76,8],[3.84,9],[3.92,8],[4.00,10],[4.08,9],[4.16,8],[4.24,6],[4.32,4],[4.40,2],[4.48,2],[4.56,2],[4.64,2],[4.72,3],[4.80,4],[4.88,6],[4.96,8],[5.00,9]
];

const cantDef: P[] = [
[1.00,69],[1.37,71],[1.73,71],[1.99,73],[2.28,70],[2.50,72],[2.80,71],[2.98,67],[3.09,58],[3.20,42],[3.31,22],[3.42,6],[3.53,1],[3.64,2],[3.71,-5],[3.82,-25],[3.93,-50],[4.02,-64],[4.15,-72],[4.33,-73],[4.48,-77],[4.59,-75],[4.74,-67],[4.85,-66],[5.00,-63]
];

const velocity: P[] = [
[1.00,18],[1.30,17],[1.60,15],[1.90,13],[2.20,14],[2.50,13],[2.80,14],[3.10,15],[3.40,14],[3.70,14],[4.00,13],[4.20,12],[4.40,9],[4.60,5],[4.80,5],[5.00,8]
];

// ---------- annotations ----------
const noteBlocks = [
  { f: 1.090, y: 560, lines: ["Dip approx 1ch before UWC", "MSP over half a length either side", "and fit new fishplates"] },
  { f: 3.192, y: 586, lines: ["Near 34ch"] },
  { f: 3.084, y: 730.7, lines: ["Nothing visible - but could be", "due to poor sleeper condition", "See photos"] },
  { f: 4.193, y: 721.7, lines: ["2 sleepers each side of joints decayed", "Replace sleepers", "See photo"] },
];
const gaugeNotes = [
  { f: 1.989, v: -26.5, t: "1434" },
  { f: 2.990, v: -25, t: "1435" },
  { f: 3.993, v: -26.5, t: "1435" },
  { f: 4.984, v: -26.5, t: "1431" },
];
const crossNotes = [
  { f: 2.001, v: 77, t: "-53" },
  { f: 2.990, v: 56.5, t: "-31" },
  { f: 3.990, v: -62, t: "49" },
  { f: 4.978, v: -71, t: "38" },
];
// ellipses: panel index, centre (mileage, value), radii in px
const rings = [
  { p: 2, f: 1.854, v: 2.1, rx: 50, ry: 74.5 },
  { p: 3, f: 1.829, v: 13.7, rx: 22.5, ry: 43 },
  { p: 3, f: 3.258, v: 17.5, rx: 26.3, ry: 45 },
  { p: 3, f: 4.304, v: 19.4, rx: 29, ry: 41 },
  { p: 4, f: 1.827, v: 12, rx: 14.5, ry: 47 },
  { p: 4, f: 4.312, v: 24.2, rx: 34, ry: 56 },
];

function spikeSeries(spikes: Spike[], groups: P[][]): P[] {
  const all: P[][] = spikes.map(([f, p, t, w]) => [[f, 0], [f, p], [f + w, t], [f + w, 0]] as P[]);
  groups.forEach((g) => all.push(g));
  all.sort((a, b) => a[0][0] - b[0][0]);
  const out: P[] = [[1, 0]];
  all.forEach((g) => g.forEach((pt) => out.push(pt)));
  out.push([5, 0]);
  return out;
}

const W = 2081;
const H = 2583;
const FONT = "'DejaVu Sans', Verdana, sans-serif";
const RED_FONT = "'Liberation Sans', Arial, sans-serif";
const AXIS = "#8e8e8e";
const GRID = "#c9c9c9";

const fmt = (v: number) => (v < 0 ? "\u2212" + Math.abs(v) : String(v));

let measureCtx: CanvasRenderingContext2D | null = null;
function textWidth(t: string, font: string) {
  if (!measureCtx) measureCtx = document.createElement("canvas").getContext("2d");
  if (!measureCtx) return t.length * 13;
  measureCtx.font = font;
  return measureCtx.measureText(t).width;
}

export default function App() {
  const L = 247, R = 2046, TOP0 = 11.7, STEP = 199.75, PH = 144, VH = 88.5;
  const x = d3.scaleLinear().domain([1, 5]).range([L, R]);

  const panels = [
    { name: "Twist1", data: twist1, lim: 36, ticks: ticks25, smooth: true },
    { name: "TopLS", data: topLS, lim: 36, ticks: ticks25, smooth: true },
    { name: "TopRS", data: topRS, lim: 36, ticks: ticks25, smooth: true },
    { name: "Dipped Left", data: spikeSeries(dippedLeftSpikes, dippedLeftGroups), lim: 55, ticks: ticks40, smooth: false },
    { name: "Dipped Right", data: spikeSeries(dippedRightSpikes, dippedRightGroups), lim: 55, ticks: ticks40, smooth: false },
    { name: "AligMS", data: aligMS, lim: 36, ticks: ticks25, smooth: true },
    { name: "AligML", data: aligML, lim: 40, ticks: ticks30, smooth: true },
    { name: "TopML", data: topML, lim: 40, ticks: ticks30, smooth: false },
    { name: "Gauge", data: gauge, lim: 43, ticks: ticks30, smooth: false },
    { name: "Crosslevel", data: crosslevel, lim: 209, ticks: ticks150, smooth: false },
    { name: "Curvature", data: curvature, lim: 209, ticks: ticks150, smooth: true },
    { name: "Cant Def", data: cantDef, lim: 157, ticks: ticks110, smooth: true },
    { name: "Velocity", data: velocity, lim: 205, ticks: ticks125, smooth: true },
  ].map((p, i) => {
    const top = TOP0 + STEP * i;
    const h = i === 12 ? VH : PH;
    const y = d3.scaleLinear().domain([-p.lim, p.lim]).range([top + h, top]);
    return { ...p, i, top, h, y };
  });

  const tickFont = `23px ${FONT}`;

  return (
    <div style={{ position: "absolute", left: 0, top: 0 }}>
      <svg width={W} height={H} style={{ display: "block" }} xmlns="http://www.w3.org/2000/svg">
        <rect x={0} y={0} width={W} height={H} fill="#eeeeee" />
        <defs>
          {panels.map((p) => (
            <clipPath id={`clip${p.i}`} key={p.i}>
              <rect x={L} y={p.top} width={R - L} height={p.h} />
            </clipPath>
          ))}
        </defs>
        {panels.map((p) => {
          const bottom = p.top + p.h;
          const line = d3
            .line<P>()
            .x((d) => x(d[0]))
            .y((d) => p.y(d[1]))
            .curve(p.smooth ? d3.curveMonotoneX : d3.curveLinear);
          const maxTickW = Math.max(...p.ticks.map((t) => textWidth(fmt(t), tickFont)));
          const labelRight = L - 17 - maxTickW - 19;
          return (
            <g key={p.name}>
              <rect x={L} y={p.top} width={R - L} height={p.h} fill="#ffffff" />
              {[2, 3, 4].map((f) => (
                <line key={f} x1={x(f)} x2={x(f)} y1={p.top} y2={bottom} stroke={GRID} strokeWidth={1.2} strokeDasharray="5,5" />
              ))}
              <line x1={L} x2={R} y1={p.y(0)} y2={p.y(0)} stroke={GRID} strokeWidth={1.2} strokeDasharray="5,5" />
              <path d={line(p.data) || ""} fill="none" stroke="#000" strokeWidth={2.2} strokeLinejoin="round" clipPath={`url(#clip${p.i})`} />
              {/* frame */}
              <line x1={L - 6} x2={R} y1={p.top} y2={p.top} stroke="#a0a0a0" strokeWidth={2} />
              <line x1={R} x2={R} y1={p.top} y2={bottom} stroke="#b5b5b5" strokeWidth={1.5} />
              <line x1={L} x2={L} y1={p.top} y2={bottom} stroke={AXIS} strokeWidth={2} />
              <line x1={L - 6} x2={R} y1={bottom} y2={bottom} stroke={AXIS} strokeWidth={2.5} />
              {mileageTicks.map((f) => (
                <g key={f}>
                  <line x1={x(f)} x2={x(f)} y1={bottom} y2={bottom + 7} stroke={AXIS} strokeWidth={2} />
                  <text x={x(f)} y={bottom + 41} textAnchor="middle" fontFamily={FONT} fontSize={25} style={{ letterSpacing: "1px" }} fill="#111">
                    {mileagePrefix + f}
                  </text>
                </g>
              ))}
              {p.ticks.map((t) => (
                <g key={t}>
                  <line x1={L - 6} x2={L} y1={p.y(t)} y2={p.y(t)} stroke={AXIS} strokeWidth={1.5} />
                  <text x={L - 17} y={p.y(t)} dy="0.36em" textAnchor="end" fontFamily={FONT} fontSize={23} fill="#111">
                    {fmt(t)}
                  </text>
                </g>
              ))}
              <text x={labelRight} y={p.top + p.h / 2} dy="0.36em" textAnchor="end" fontFamily={FONT} fontSize={23} fill="#111">
                {p.name}
              </text>
            </g>
          );
        })}

        {/* red value labels */}
        {gaugeNotes.map((n, k) => (
          <text key={"g" + k} x={x(n.f)} y={panels[8].y(n.v)} dy="0.36em" textAnchor="middle" fontFamily={RED_FONT} fontSize={21} fill="#ff0000">
            {n.t}
          </text>
        ))}
        {crossNotes.map((n, k) => (
          <text key={"c" + k} x={x(n.f)} y={panels[9].y(n.v)} dy="0.36em" textAnchor="middle" fontFamily={RED_FONT} fontSize={21} fill="#ff0000">
            {n.t}
          </text>
        ))}

        {/* red notes */}
        {noteBlocks.map((b, k) => (
          <g key={"n" + k}>
            {b.lines.map((ln, j) => (
              <text key={j} x={x(b.f)} y={b.y + j * 29.3} dy="0.36em" fontFamily={RED_FONT} fontSize={21} fill="#ff0000">
                {ln}
              </text>
            ))}
          </g>
        ))}
        {rings.map((r, k) => (
          <ellipse key={"r" + k} cx={x(r.f)} cy={panels[r.p].y(r.v)} rx={r.rx} ry={r.ry} fill="none" stroke="#ff0000" strokeWidth={2.6} />
        ))}

        <text x={(L + R) / 2} y={2577} textAnchor="middle" fontFamily={FONT} fontSize={28} fill="#111">
          Mileage
        </text>
      </svg>
    </div>
  );
}
